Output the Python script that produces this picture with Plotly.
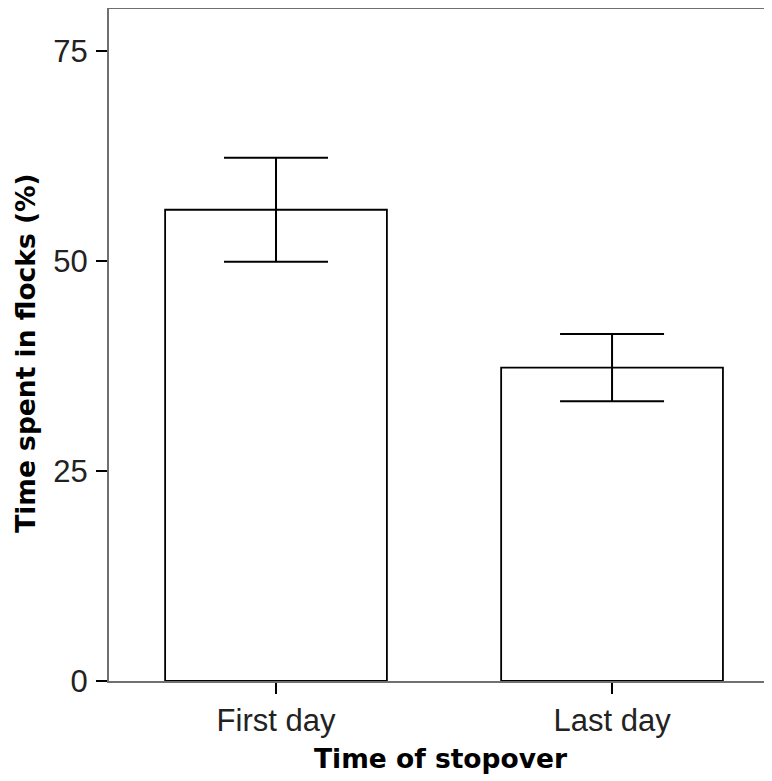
import plotly.graph_objects as go

categories = ["First day", "Last day"]
means = [56.1, 37.3]
errors = [6.2, 4.0]
y_ticks = [0, 25, 50, 75]

fig = go.Figure()
fig.add_trace(go.Bar(
    x=categories, y=means, width=0.66,
    marker=dict(color="white", line=dict(color="black", width=1.8)),
    error_y=dict(type="data", array=errors, visible=True, color="black",
                 thickness=2, width=52),
))

fig.update_layout(
    width=764, height=773,
    margin=dict(l=101, r=0, t=1, b=100),
    plot_bgcolor="white", paper_bgcolor="white",
    showlegend=False,
    xaxis=dict(
        range=[-0.497, 1.476], showline=True, mirror=True, linecolor="#707070", linewidth=2,
        ticks="outside", ticklen=11, tickwidth=2, tickcolor="black",
        tickfont=dict(family="Liberation Sans, Arial", size=31, color="#222"),
        ticklabelstandoff=0, showgrid=False, zeroline=False,
    ),
    yaxis=dict(
        range=[0, 80], tickvals=y_ticks, showline=True, linecolor="#707070", linewidth=2,
        ticks="outside", ticklen=11, tickwidth=2, tickcolor="black",
        tickfont=dict(family="Liberation Sans, Arial", size=31, color="#222"),
        ticklabelstandoff=2, showgrid=False, zeroline=False,
    ),
    annotations=[
        dict(text="<b>Time of stopover</b>", xref="paper", yref="paper",
             x=0.5, y=-0.115, xanchor="center", yanchor="middle", showarrow=False,
             font=dict(family="DejaVu Sans", size=26.5, color="black")),
        dict(text="<b>Time spent in flocks (%)</b>", xref="paper", yref="paper",
             x=-0.127, y=0.488, xanchor="center", yanchor="middle", showarrow=False,
             textangle=-90,
             font=dict(family="DejaVu Sans", size=26.5, color="black")),
    ],
)

fig.write_html("out.html")
